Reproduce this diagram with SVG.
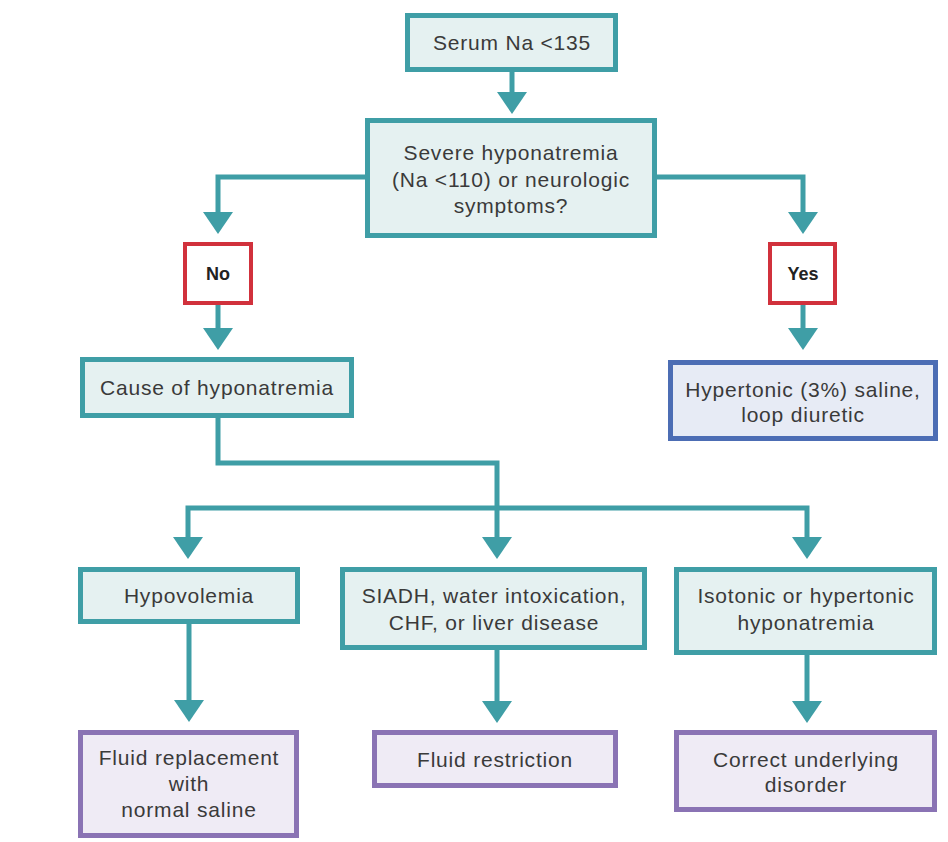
<svg xmlns="http://www.w3.org/2000/svg" xmlns:xlink="http://www.w3.org/1999/xlink" width="948" height="842" viewBox="0 0 948 842">
  <style>
    .teal { fill: #e5f1f1; stroke: #3f9ea6; stroke-width: 5; }
    .ans { fill: #ffffff; stroke: #d1313c; stroke-width: 4; }
    .blue { fill: #e7ebf5; stroke: #4c6db4; stroke-width: 5; }
    .purple { fill: #efebf5; stroke: #8a73b4; stroke-width: 5; }
    .wire { fill: none; stroke: #3f9ea6; stroke-width: 5; stroke-linejoin: miter; stroke-linecap: butt; }
    .head { fill: #3f9ea6; }
    text { font-family: "Liberation Sans", Arial, sans-serif; font-size: 21px; fill: #3a3a3a; text-anchor: middle; letter-spacing: 0.8px; }
    text.bold { font-weight: bold; font-size: 18px; fill: #222222; letter-spacing: 0; }
  </style>
  <defs>
    <path id="ah" d="M-15,0 L15,0 L0,22 Z"/>
  </defs>
  <rect width="948" height="842" fill="#ffffff"/>

  <g id="connectors">
    <path class="wire" d="M512,72 V92"/>
    <use xlink:href="#ah" class="head" x="512" y="92"/>
    <path class="wire" d="M366,177 H218 V213"/>
    <use xlink:href="#ah" class="head" x="218" y="212"/>
    <path class="wire" d="M656,177 H803 V213"/>
    <use xlink:href="#ah" class="head" x="803" y="212"/>
    <path class="wire" d="M218,305 V329"/>
    <use xlink:href="#ah" class="head" x="218" y="328"/>
    <path class="wire" d="M803,305 V329"/>
    <use xlink:href="#ah" class="head" x="803" y="328"/>
    <path class="wire" d="M218,418 V463 H497 V538"/>
    <use xlink:href="#ah" class="head" x="497" y="537"/>
    <path class="wire" d="M188,538 V508 H807 V538"/>
    <use xlink:href="#ah" class="head" x="188" y="537"/>
    <use xlink:href="#ah" class="head" x="807" y="537"/>
    <path class="wire" d="M189,624 V701"/>
    <use xlink:href="#ah" class="head" x="189" y="700"/>
    <path class="wire" d="M497,650 V702"/>
    <use xlink:href="#ah" class="head" x="497" y="701"/>
    <path class="wire" d="M807,655 V702"/>
    <use xlink:href="#ah" class="head" x="807" y="701"/>
  </g>

  <g id="serum">
    <rect class="teal" x="407.5" y="15.5" width="208" height="54"/>
    <text x="512" y="50">Serum Na &lt;135</text>
  </g>
  <g id="severe">
    <rect class="teal" x="367.5" y="120.5" width="287" height="115"/>
    <text x="511" y="160">Severe hyponatremia</text>
    <text x="511" y="187">(Na &lt;110) or neurologic</text>
    <text x="511" y="213">symptoms?</text>
  </g>
  <g id="no">
    <rect class="ans" x="185" y="244" width="66" height="59"/>
    <text class="bold" x="218" y="280">No</text>
  </g>
  <g id="yes">
    <rect class="ans" x="770" y="244" width="65" height="59"/>
    <text class="bold" x="803" y="280">Yes</text>
  </g>
  <g id="cause">
    <rect class="teal" x="82.5" y="359.5" width="269" height="56"/>
    <text x="217" y="395">Cause of hyponatremia</text>
  </g>
  <g id="hypertonic">
    <rect class="blue" x="670.5" y="362.5" width="265" height="76"/>
    <text x="803" y="397">Hypertonic (3%) saline,</text>
    <text x="803" y="422">loop diuretic</text>
  </g>
  <g id="hypovolemia">
    <rect class="teal" x="80.5" y="569.5" width="217" height="52"/>
    <text x="189" y="603">Hypovolemia</text>
  </g>
  <g id="siadh">
    <rect class="teal" x="342.5" y="569.5" width="302" height="78"/>
    <text x="494" y="603">SIADH, water intoxication,</text>
    <text x="494" y="630">CHF, or liver disease</text>
  </g>
  <g id="isotonic">
    <rect class="teal" x="676.5" y="569.5" width="258" height="83"/>
    <text x="806" y="603">Isotonic or hypertonic</text>
    <text x="806" y="630">hyponatremia</text>
  </g>
  <g id="fluid-replacement">
    <rect class="purple" x="80.5" y="732.5" width="216" height="103"/>
    <text x="189" y="765">Fluid replacement</text>
    <text x="189" y="791">with</text>
    <text x="189" y="817">normal saline</text>
  </g>
  <g id="fluid-restriction">
    <rect class="purple" x="374.5" y="732.5" width="241" height="53"/>
    <text x="495" y="767">Fluid restriction</text>
  </g>
  <g id="correct">
    <rect class="purple" x="676.5" y="732.5" width="258" height="77"/>
    <text x="806" y="767">Correct underlying</text>
    <text x="806" y="792">disorder</text>
  </g>
</svg>
